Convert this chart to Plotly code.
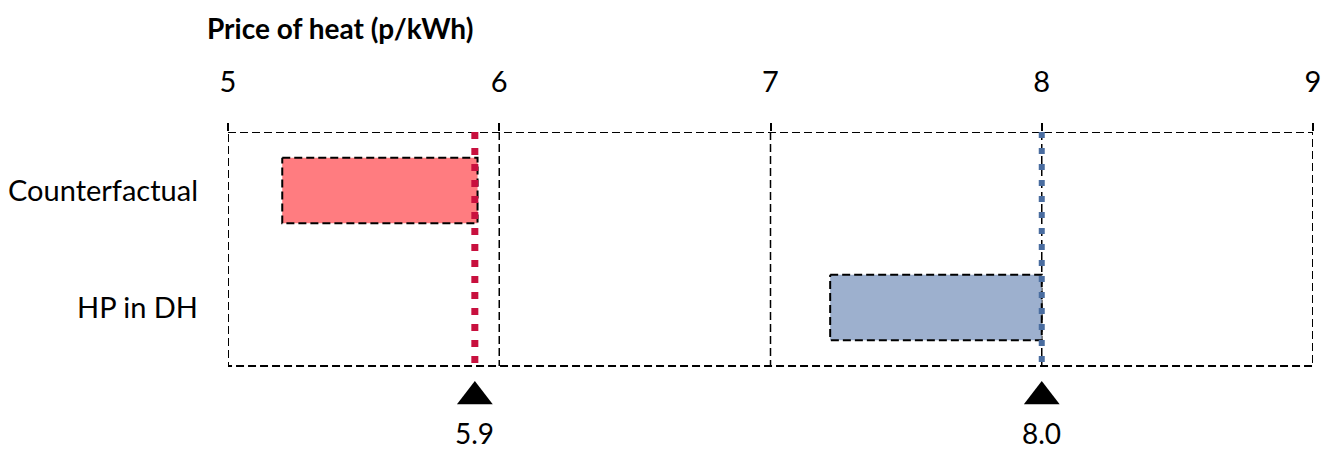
import plotly.graph_objects as go

# ---- data ----
categories = ["Counterfactual", "HP in DH"]
price_low = [5.20, 7.22]
price_high = [5.92, 8.00]
price_mark = [5.91, 8.00]
mark_labels = [f"{v:.1f}" for v in price_mark]
x_ticks = [5, 6, 7, 8, 9]

fill_colors = ["#FF7C80", "#9DB0CE"]
line_colors = ["#C8103E", "#4A6DA0"]
line_widths = [7, 6]
line_dashes = ["7px,9px", "6px,10px"]

FONT = "Lato"
y_pos = list(range(len(categories)))
y_top, y_bot = -0.5, len(categories) - 0.5
bar_w = 0.56
DASH = "8px,4px"

fig = go.Figure()

# dashed plot box and gridlines
fig.add_shape(type="rect", xref="x", yref="y", x0=x_ticks[0], x1=x_ticks[-1],
              y0=y_top, y1=y_bot, line=dict(color="black", width=2, dash=DASH),
              layer="below")
for t in x_ticks[1:-1]:
    fig.add_shape(type="line", xref="x", yref="y", x0=t, x1=t, y0=y_top, y1=y_bot,
                  line=dict(color="black", width=1.5, dash=DASH), layer="below")

# bars
fig.add_trace(go.Bar(
    y=y_pos, x=[h - l for l, h in zip(price_low, price_high)], base=price_low,
    orientation="h", width=bar_w, marker=dict(color=fill_colors, line=dict(width=0)),
    hoverinfo="skip", showlegend=False))

# dashed outlines of bars
for yi, lo, hi in zip(y_pos, price_low, price_high):
    fig.add_trace(go.Scatter(
        x=[lo, hi, hi, lo, lo],
        y=[yi - bar_w / 2, yi - bar_w / 2, yi + bar_w / 2, yi + bar_w / 2, yi - bar_w / 2],
        mode="lines", line=dict(color="black", width=2, dash=DASH),
        hoverinfo="skip", showlegend=False))

# dotted vertical lines
for v, c, w, d in zip(price_mark, line_colors, line_widths, line_dashes):
    fig.add_trace(go.Scatter(
        x=[v, v], y=[y_top, y_bot], mode="lines",
        line=dict(color=c, width=w, dash=d),
        hoverinfo="skip", showlegend=False))

# triangles below the box
fig.add_trace(go.Scatter(
    x=price_mark, y=[1.76] * len(price_mark), mode="markers",
    marker=dict(symbol="triangle-up", size=31, color="black", line=dict(width=0)),
    hoverinfo="skip", showlegend=False))

for v, lab in zip(price_mark, mark_labels):
    fig.add_annotation(x=v, xref="x", y=2.073, yref="y", text=lab,
                       showarrow=False, xanchor="center", yanchor="middle",
                       font=dict(family=FONT, size=28, color="black"))

fig.add_annotation(x=-0.0212, xref="paper", y=1.3281, yref="paper",
                   text="<b>Price of heat (p/kWh)</b>", showarrow=False,
                   xanchor="left", yanchor="middle",
                   font=dict(family=FONT, size=28, color="black"))

fig.update_xaxes(side="top", range=[x_ticks[0], x_ticks[-1]], tickvals=x_ticks,
                 ticks="outside", ticklen=8, tickwidth=2, tickcolor="black",
                 showline=False, zeroline=False, showgrid=False,
                 ticklabelstandoff=19,
                 tickfont=dict(family=FONT, size=29, color="black"))
fig.update_yaxes(range=[2.209, y_top], tickvals=y_pos, ticktext=categories,
                 showgrid=False, zeroline=False, showline=False, ticks="",
                 ticklabelstandoff=29,
                 tickfont=dict(family=FONT, size=29, color="black"))

fig.update_layout(width=1333, height=449, autosize=False,
                  margin=dict(l=228, r=20, t=132, b=0),
                  plot_bgcolor="white", paper_bgcolor="white",
                  font=dict(family=FONT, color="black"))

fig.write_html("out.html", config={"displayModeBar": False},
               post_script="document.body.style.margin='0';document.body.style.overflow='hidden';")
